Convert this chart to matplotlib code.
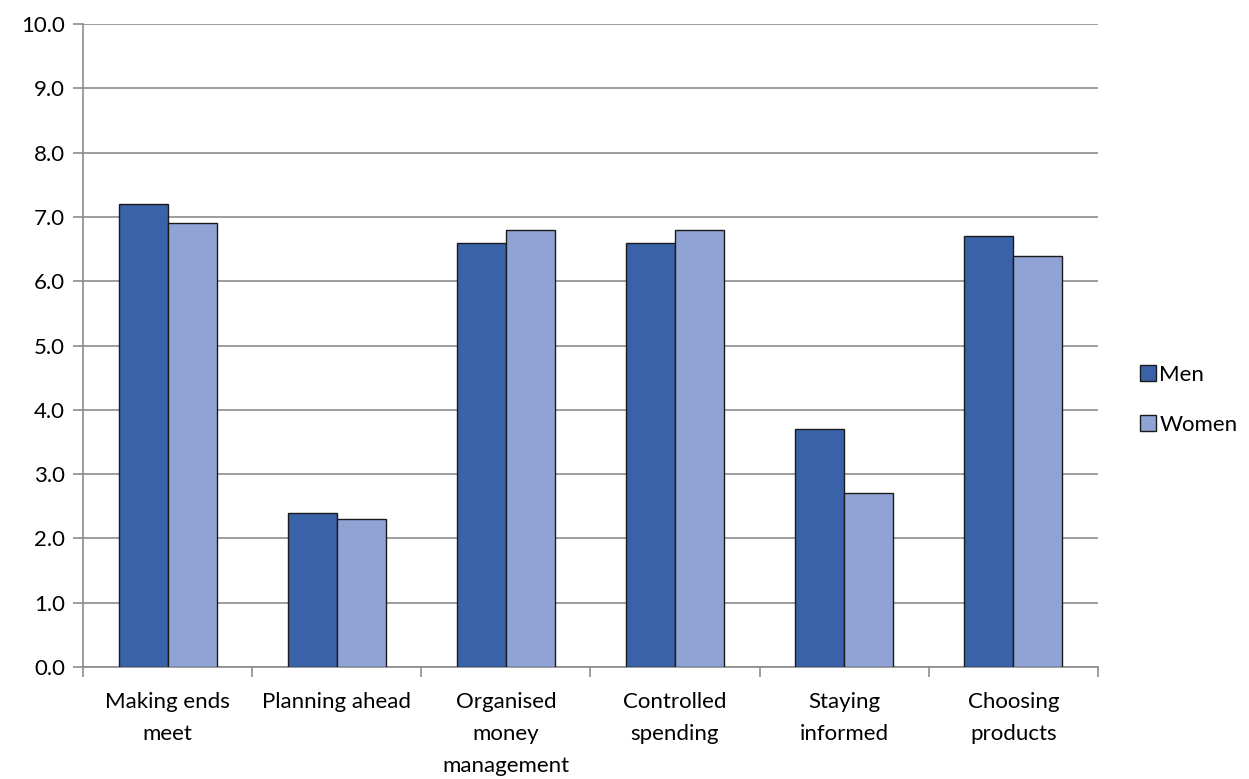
import numpy as np
import matplotlib.pyplot as plt

categories = ["Making ends\nmeet", "Planning ahead", "Organised\nmoney\nmanagement",
              "Controlled\nspending", "Staying\ninformed", "Choosing\nproducts"]
men = [7.2, 2.4, 6.6, 6.6, 3.7, 6.7]
women = [6.9, 2.3, 6.8, 6.8, 2.7, 6.4]

plt.rcParams['font.family'] = ['Lato', 'DejaVu Sans']

fig = plt.figure(figsize=(12.49, 7.79), dpi=100)
ax = fig.add_axes([0.0665, 0.1438, 0.8125, 0.8252])

x = np.arange(len(categories))
w = 0.29
ax.bar(x - w / 2, men, w, color='#3A62A8', edgecolor='#1a1a1a', linewidth=1, label='Men', zorder=3)
ax.bar(x + w / 2, women, w, color='#8FA3D5', edgecolor='#1a1a1a', linewidth=1, label='Women', zorder=3)

ax.set_xlim(-0.5, len(categories) - 0.5)
ax.set_ylim(0, 10)
ax.set_yticks(np.arange(0, 10.1, 1))
ax.set_yticklabels([f"{v:.1f}" for v in np.arange(0, 10.1, 1)], fontsize=16)
ax.yaxis.grid(True, color='#8c8c8c', linewidth=1.2, zorder=0)

ax.set_xticks(x)
ax.set_xticklabels(categories, fontsize=16, linespacing=1.75, va='top')
ax.set_xticks(np.arange(-0.5, len(categories)), minor=True)
ax.tick_params(axis='x', which='major', length=0, pad=18)
ax.tick_params(axis='x', which='minor', length=7, width=1.2, color='#8c8c8c', direction='out')
ax.tick_params(axis='y', length=7, width=1.2, color='#8c8c8c', direction='out', pad=6)

for s in ['top', 'right']:
    ax.spines[s].set_visible(False)
for s in ['left', 'bottom']:
    ax.spines[s].set_color('#8c8c8c')
    ax.spines[s].set_linewidth(1.2)

fig.legend(loc='center left', bbox_to_anchor=(0.897, 0.487), frameon=False, fontsize=16,
           handlelength=0.7, handleheight=0.7, handletextpad=0.15, labelspacing=1.35)

fig.savefig("out.png", dpi=100)
